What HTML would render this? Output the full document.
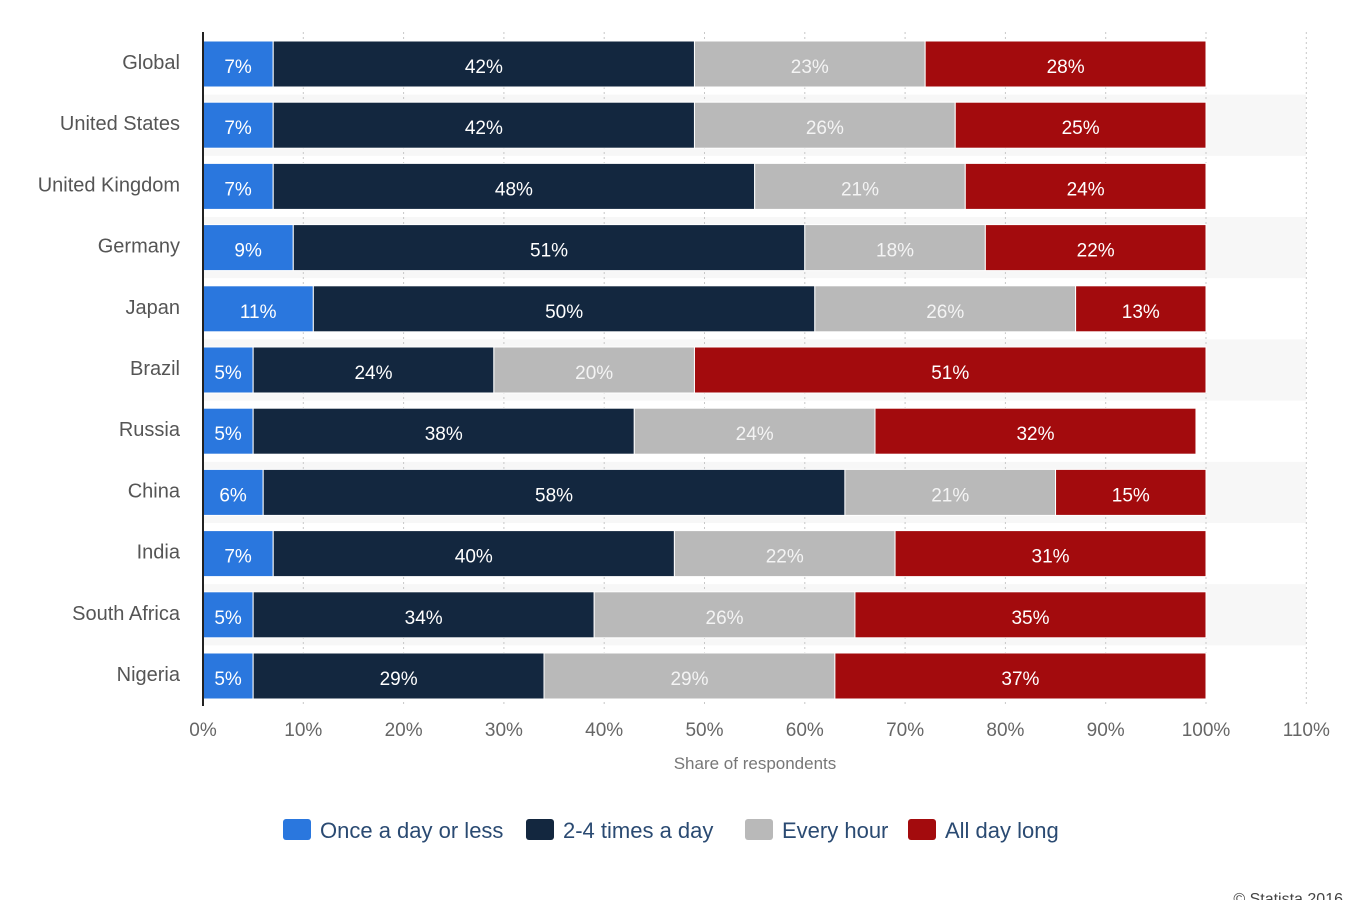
<!DOCTYPE html>
<html><head><meta charset="utf-8"><style>
body{margin:0;background:#fff;font-family:"Liberation Sans",sans-serif;}
</style></head><body>
<svg id="chart" width="1360" height="900" xmlns="http://www.w3.org/2000/svg"></svg>
<script>
const countries=["Global","United States","United Kingdom","Germany","Japan","Brazil","Russia","China","India","South Africa","Nigeria"];
const onceADay=[7,7,7,9,11,5,5,6,7,5,5];
const twoToFour=[42,42,48,51,50,24,38,58,40,34,29];
const everyHour=[23,26,21,18,26,20,24,21,22,26,29];
const allDay=[28,25,24,22,13,51,32,15,31,35,37];
const xTicks=[0,10,20,30,40,50,60,70,80,90,100,110];
const seriesNames=["Once a day or less","2-4 times a day","Every hour","All day long"];
const seriesData=[onceADay,twoToFour,everyHour,allDay];
const colors=["#2a77de","#13273f","#b9b9b9","#a30b0d"];
const textColors=["#fff","#fff","#f4f4f4","#fff"];
const svg=document.getElementById('chart');
const NS="http://www.w3.org/2000/svg";
const x0=203,pxPer=10.03;
const x=v=>x0+v*pxPer;
const pitch=61.2,firstCenter=64,barH=46;
const yc=i=>firstCenter+i*pitch;
function mk(tag,attrs,parent){const e=document.createElementNS(NS,tag);for(const k in attrs)e.setAttribute(k,attrs[k]);(parent||svg).appendChild(e);return e;}
// stripes
countries.forEach((c,i)=>{if(i%2===1){const r=mk('rect',{x:x0,y:yc(i)-pitch/2,width:1306-x0,height:pitch,fill:'#f7f7f7'});

}});
// gridlines
xTicks.forEach(t=>{if(t===0)return;const l=mk('line',{x1:x(t),x2:x(t),y1:32,y2:706,stroke:'#c8c8c8','stroke-dasharray':'2,3','stroke-width':1});

});
// bars
countries.forEach((c,i)=>{
  let cum=0;
  seriesData.forEach((s,j)=>{
    const v=s[i];
    const r=mk('rect',{x:x(cum),y:yc(i)-barH/2,width:v*pxPer,height:barH,fill:colors[j],stroke:'#fff','stroke-width':1});
    
    
    const t=mk('text',{x:x(cum+v/2),y:yc(i)+9,'text-anchor':'middle','font-size':19,fill:textColors[j]});
    t.textContent=v+'%';
    
    
    cum+=v;
  });
  const lab=mk('text',{x:180,y:yc(i)+5,'text-anchor':'end','font-size':20,fill:'#555'});
  lab.textContent=c;
  
  
});
// axis line
const ax=mk('line',{x1:x0,x2:x0,y1:32,y2:706,stroke:'#222','stroke-width':2});


xTicks.forEach(t=>{const e=mk('text',{x:x(t),y:736,'text-anchor':'middle','font-size':19,fill:'#666'});e.textContent=t+'%';

});
const xt=mk('text',{x:755,y:769,'text-anchor':'middle','font-size':17,fill:'#777'});xt.textContent='Share of respondents';


// legend
const legX=[283,526,745,908];
seriesNames.forEach((n,j)=>{
  const g=mk('g',{});
  
  
  mk('rect',{x:legX[j],y:819,width:28,height:21,rx:3,fill:colors[j]},g);
  const t=mk('text',{x:legX[j]+37,y:838,'font-size':22,fill:'#2a4a72'},g);t.textContent=n;
});
const cp=mk('text',{x:1343,y:904,'text-anchor':'end','font-size':16,fill:'#444'});cp.textContent='© Statista 2016';


</script>
</body></html>
